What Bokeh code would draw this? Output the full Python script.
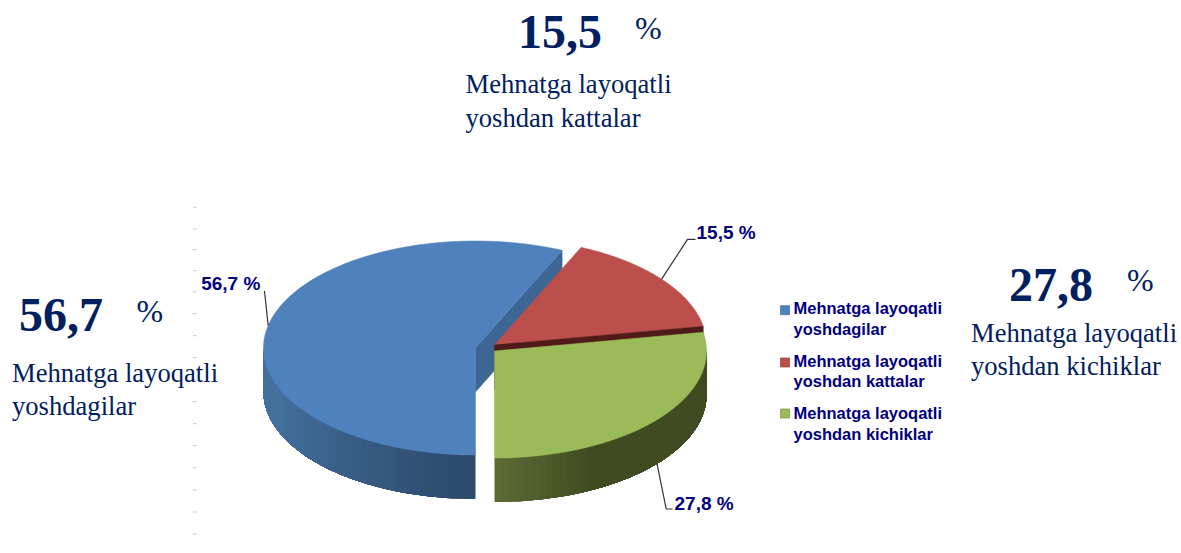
import math
from bokeh.plotting import figure
from bokeh.models import Range1d
from bokeh.core.properties import value
from bokeh.embed import file_html
from bokeh.resources import INLINE

# data
categories = ["Mehnatga layoqatli yoshdagilar", "Mehnatga layoqatli yoshdan kattalar", "Mehnatga layoqatli yoshdan kichiklar"]
legend_lines = [["Mehnatga layoqatli", "yoshdagilar"], ["Mehnatga layoqatli", "yoshdan kattalar"], ["Mehnatga layoqatli", "yoshdan kichiklar"]]
values = [56.7, 15.5, 27.8]
value_labels = ["56,7", "15,5", "27,8"]
callout_lines = [["Mehnatga layoqatli", "yoshdagilar"], ["Mehnatga layoqatli", "yoshdan kattalar"], ["Mehnatga layoqatli", "yoshdan kichiklar"]]
stray_ticks = [207.3, 229, 249.7, 270.7, 291.7, 313.7, 335.7, 357.7, 379.7, 401.7, 423.7, 445.7, 467.7, 490, 512, 534]

# style / layout
TOP = ["#4F81BD", "#BC4F4C", "#9BBB59"]
EDGE_COL = ["#3D6694", "#4F1A18", "#404B22"]
NAVY = "#002060"
LABEL = "#000080"
CENTERS = [(476, 348), (495, 345), (495, 351)]
RX, RY, DEPTH = 212, 107, 44
START = 180.0


def pt(c, t, dy=0.0):
    a = math.radians(t)
    return c[0] + RX * math.sin(a), c[1] - RY * math.cos(a) + dy


def lerp(c1, c2, f):
    f = max(0.0, min(1.0, f))
    a = [int(c1[i:i + 2], 16) for i in (1, 3, 5)]
    b = [int(c2[i:i + 2], 16) for i in (1, 3, 5)]
    return "#%02x%02x%02x" % tuple(round(x + (y - x) * f) for x, y in zip(a, b))


spans, t0 = [], START
for v in values:
    spans.append((t0, t0 + v * 3.6))
    t0 += v * 3.6

p = figure(width=1180, height=545, x_range=Range1d(1, 1181), y_range=Range1d(545.5, 0.5),
           x_axis_location=None, y_axis_location=None, toolbar_location=None,
           output_backend="svg", min_border=0, outline_line_color=None, background_fill_color="white")
p.grid.visible = False

# faint stray ticks
p.segment([193.3] * len(stray_ticks), stray_ticks, [197.3] * len(stray_ticks), stray_ticks,
          line_color="#cccccc", line_width=1)


def wedge(c, t1, t2):
    n = max(2, int(abs(t2 - t1)))
    pts = [c] + [pt(c, t1 + (t2 - t1) * i / n) for i in range(n + 1)]
    return [q[0] for q in pts], [q[1] for q in pts]


def wall(c, t1, t2, col1, col2, col3=None, mid=0.3):
    # each gradient step is drawn as one fan from its start angle to the wall's far end,
    # so that later steps paint over earlier ones and no seams appear
    n = int(abs(t2 - t1) / 2)
    for i in range(n):
        a = t1 + (t2 - t1) * i / n
        m = max(2, int(abs(t2 - a)))
        arc = [a + (t2 - a) * k / m for k in range(m + 1)]
        q = [pt(c, u) for u in arc] + [pt(c, u, DEPTH) for u in reversed(arc)]
        f = (i + 0.5) / n
        if col3 is None:
            col = lerp(col1, col2, f)
        else:
            col = lerp(col1, col2, f / mid) if f < mid else lerp(col2, col3, (f - mid) / (1 - mid))
        p.patch([k[0] for k in q], [k[1] for k in q], fill_color=col, line_color=None)


# blue slice: outer wall, cut wall, top
c = CENTERS[0]
t1, t2 = spans[0]
wall(c, t1, 270, "#2B4868", "#44709F", "#44709F", mid=0.75)
e = pt(c, t2)
p.patch([c[0], e[0], e[0], c[0]], [c[1], e[1], e[1] + DEPTH, c[1] + DEPTH],
        fill_color=EDGE_COL[0], line_color=EDGE_COL[0], line_width=0.5)
xs, ys = wedge(c, t1, t2)
p.patch(xs, ys, fill_color=TOP[0], line_color=TOP[0], line_width=0.5)

# red slice: top and thin dark band
c = CENTERS[1]
t1, t2 = spans[1]
xs, ys = wedge(c, t1, t2)
p.patch(xs, ys, fill_color=TOP[1], line_color=TOP[1], line_width=0.5)
e = pt(c, t2)
p.patch([c[0], e[0], e[0], c[0]], [c[1], e[1], e[1] + DEPTH, c[1] + DEPTH],
        fill_color=EDGE_COL[1], line_color=EDGE_COL[1], line_width=0.5)

# green slice
c = CENTERS[2]
t1, t2 = spans[2]
wall(c, t2 - 360, 90, "#5C6C35", EDGE_COL[2], EDGE_COL[2], mid=0.3)
xs, ys = wedge(c, t1, t2)
p.patch(xs, ys, fill_color=TOP[2], line_color=TOP[2], line_width=0.5)

# leaders: start on each slice at its mid angle
mids = [(a + b) / 2 for a, b in spans]
m0 = pt(CENTERS[0], mids[0])
m1 = pt(CENTERS[1], mids[1])
m2 = pt(CENTERS[2], mids[2], DEPTH)
for xs, ys in [([m0[0], 265.0], [m0[1], 291.0]),
               ([m1[0], 688.0, 696.0], [m1[1], 239.3, 239.3]),
               ([m2[0], 666.7, 673.0], [m2[1], 509.0, 509.0])]:
    p.line(xs, ys, line_color="#333333", line_width=1.2)

SANS = value("Liberation Sans")
SERIF = value("Liberation Serif")
BASE_K = 0.33


def txt(x, y, s, font, size, color, style="normal"):
    p.text([x], [y - BASE_K * size], text=[s], text_font=font, text_font_size=f"{size}px", text_color=color,
           text_font_style=style, text_baseline="alphabetic", text_align="left")


# data labels
for (x, y), s in zip([(201.7, 290), (697, 239), (675, 510)], value_labels):
    txt(x, y - 0.5, s + " %", SANS, 19, LABEL, "bold")

# legend
for (ysq, y1, y2), col, lines in zip([(305.7, 314, 335), (358, 367, 387), (409, 419, 440)], TOP, legend_lines):
    p.quad(left=[781], right=[790], top=[ysq], bottom=[ysq + 9], fill_color=col,
           line_color=lerp(col, "#000000", 0.2), line_width=0.7)
    txt(794, y1 - 1, lines[0], SANS, 16.5, LABEL, "bold")
    txt(794, y2 - 1, lines[1], SANS, 16.5, LABEL, "bold")

# big callouts
layout = [(19.6, 333, 137, 324, 12.5, 382, 415),
          (518.5, 50, 635.5, 41, 466, 93, 127),
          (1009.6, 303, 1127.5, 293, 971.5, 342, 375)]
for (xn, yn, xp, yp, xt, y1, y2), s, lines in zip(layout, value_labels, callout_lines):
    txt(xn, yn - 2, s, SERIF, 48, NAVY, "bold")
    txt(xp, yp - 2, "%", SERIF, 32, NAVY)
    txt(xt, y1, lines[0], SERIF, 26.6, NAVY)
    txt(xt, y2, lines[1], SERIF, 26.6, NAVY)

open("out.html", "w").write(file_html(p, INLINE))
